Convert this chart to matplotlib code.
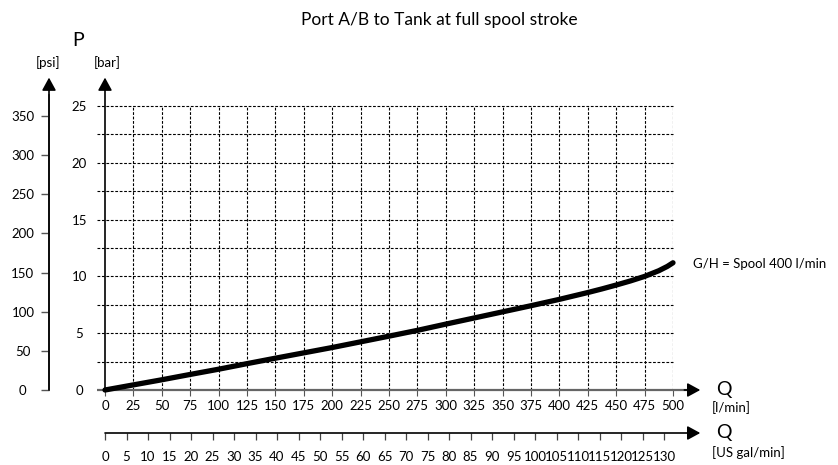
import matplotlib
matplotlib.use('Agg')
import matplotlib.pyplot as plt
import numpy as np

plt.rcParams['font.family'] = ['Lato', 'DejaVu Sans']

# pressure drop A/B -> T, spool G/H 400 l/min
flow_lpm = [0, 25, 50, 75, 100, 125, 150, 175, 200, 225, 250,
            275, 300, 325, 350, 375, 400, 425, 437.5, 450, 462.5,
            475, 487.5, 495, 500]
p_bar = [0.0, 0.45, 0.9, 1.37, 1.83, 2.32, 2.8, 3.27, 3.74, 4.24, 4.74,
         5.25, 5.8, 6.34, 6.88, 7.42, 7.98, 8.58, 8.9, 9.24, 9.6,
         10.0, 10.5, 10.88, 11.2]

x_ticks = list(range(0, 501, 25))
y_ticks = [0, 5, 10, 15, 20, 25]
y_grid = [2.5, 5, 7.5, 10, 12.5, 15, 17.5, 20, 22.5, 25]
psi_ticks = list(range(0, 351, 50))
gal_ticks = list(range(0, 131, 5))

BAR_TO_PSI = 14.5038
LPM_PER_GAL = 3.78541

W, H = 838, 465
fig = plt.figure(figsize=(W / 100, H / 100), dpi=100)


def fx(px):
    return px / W


def fy(py):
    return 1 - py / H


x0, x1, ytop, ybot = 105, 673, 106, 390
lbl = 9.5
arrow = dict(arrowstyle='-|>,head_length=0.55,head_width=0.3', color='black',
             lw=1.2, shrinkA=0, shrinkB=0, mutation_scale=14)

# main chart in l/min and bar
ax = fig.add_axes([fx(x0), fy(ybot), (x1 - x0) / W, (ybot - ytop) / H])
ax.set_xlim(0, 500)
ax.set_ylim(0, 25)
for s in ax.spines.values():
    s.set_visible(False)
ax.patch.set_visible(False)

dash = (0, (2.5, 1.5))
ax.hlines(y_grid, -7, 500, colors='black', lw=0.8, linestyles=dash, clip_on=False)
ax.vlines(x_ticks[1:], 0, 25, colors='black', lw=0.8, linestyles=dash)

ax.set_xticks(x_ticks)
ax.set_yticks(y_ticks)
ax.tick_params(axis='x', direction='out', length=4, width=0.8, color='#555',
               pad=3, labelsize=lbl)
ax.tick_params(axis='y', length=0, pad=18.5, labelsize=lbl)
for t in ax.get_yticklabels():
    t.set_ha('center')

# axis lines with arrows
ax.plot([-7, 512], [0, 0], color='#666666', lw=1.6, clip_on=False,
        solid_capstyle='butt')
ax.annotate('', xy=(524, 0), xytext=(510, 0), arrowprops=arrow,
            annotation_clip=False)
ax.annotate('', xy=(0, 27.5), xytext=(0, 0), arrowprops=arrow,
            annotation_clip=False)

ax.plot(flow_lpm, p_bar, color='black', lw=3.8, solid_capstyle='round',
        solid_joinstyle='round', clip_on=False, zorder=5)

# psi scale
axp = fig.add_axes([fx(49), fy(ybot), 0.0005, (ybot - ytop) / H])
axp.set_ylim(0, 25 * BAR_TO_PSI)
axp.set_xlim(0, 1)
for s in axp.spines.values():
    s.set_visible(False)
axp.patch.set_visible(False)
axp.set_xticks([])
axp.set_yticks(psi_ticks)
axp.tick_params(axis='y', direction='out', length=5.8, width=1, color='#555',
                pad=13, labelsize=lbl)
for t in axp.get_yticklabels():
    t.set_ha('center')
axp.annotate('', xy=(0, 27.5 * BAR_TO_PSI), xytext=(0, 0),
             arrowprops=dict(arrow, color='black'), annotation_clip=False)
axp.plot([0, 0], [0, 26 * BAR_TO_PSI], color='#555555', lw=1.3, clip_on=False)

# US gal/min scale
axg = fig.add_axes([fx(x0), fy(433), (x1 - x0) / W, 0.0005])
axg.set_xlim(0, 500 / LPM_PER_GAL)
axg.set_ylim(0, 1)
for s in axg.spines.values():
    s.set_visible(False)
axg.patch.set_visible(False)
axg.set_yticks([])
axg.set_xticks(gal_ticks)
axg.tick_params(axis='x', direction='out', length=5, width=0.9, color='#444',
                pad=8, labelsize=lbl)
axg.annotate('', xy=(524 / LPM_PER_GAL, 0), xytext=(0, 0), arrowprops=arrow,
             annotation_clip=False)

# labels
fig.text(fx(439), fy(20), 'Port A/B to Tank at full spool stroke',
         ha='center', va='center', fontsize=12.5)
fig.text(fx(78), fy(40), 'P', ha='center', va='center', fontsize=14)
fig.text(fx(48), fy(63), '[psi]', ha='center', va='center', fontsize=lbl)
fig.text(fx(107), fy(63), '[bar]', ha='center', va='center', fontsize=lbl)
fig.text(fx(724), fy(389), 'Q', ha='center', va='center', fontsize=14)
fig.text(fx(712), fy(408), '[l/min]', ha='left', va='center', fontsize=lbl)
fig.text(fx(724), fy(432), 'Q', ha='center', va='center', fontsize=14)
fig.text(fx(712), fy(453), '[US gal/min]', ha='left', va='center', fontsize=lbl)
fig.text(fx(693), fy(264), 'G/H = Spool 400 l/min', ha='left', va='center',
         fontsize=lbl)

fig.savefig('out.png', dpi=100)
